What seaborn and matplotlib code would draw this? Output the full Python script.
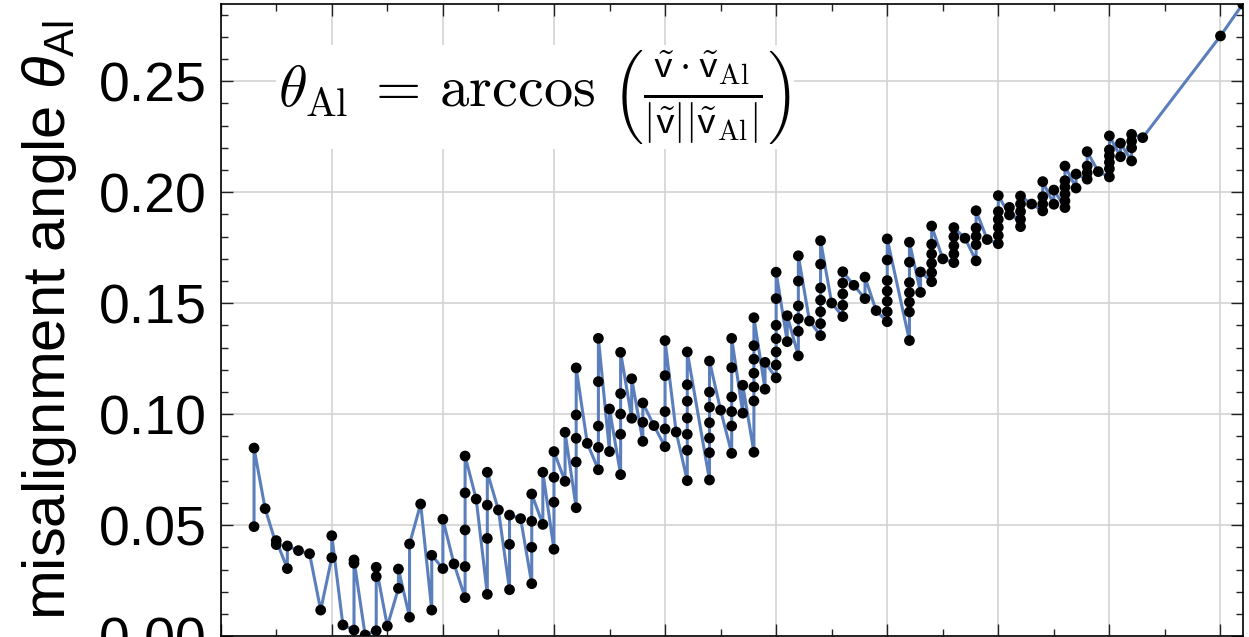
import matplotlib
matplotlib.use("Agg")
import matplotlib.pyplot as plt
from matplotlib.ticker import MultipleLocator, NullFormatter
import numpy as np
import pandas as pd
import seaborn as sns

# Misalignment angle per position; positions with several runs are listed bottom to top
offset = (
    [0.3] * 2 + [0.4] + [0.5] * 2 + [0.6] * 2 + [0.7] + [0.8] + [0.9] + [1.0] * 2
    + [1.1] + [1.2] * 3 + [1.3] + [1.4] * 3 + [1.5] + [1.6] * 2 + [1.7] * 2
    + [1.8] + [1.9] * 2 + [2.0] * 2 + [2.1] + [2.2] * 5 + [2.3] + [2.4] * 4
    + [2.5] + [2.6] * 3 + [2.7] + [2.8] * 4 + [2.9] * 2 + [3.0] * 4 + [3.1] * 2
    + [3.2] * 5 + [3.3] + [3.4] * 5 + [3.5] * 2 + [3.6] * 5 + [3.7] * 2
    + [3.8] * 3 + [3.9] + [4.0] * 5 + [4.1] + [4.2] * 7 + [4.4] * 7 + [4.5]
    + [4.6] * 6 + [4.7] * 2 + [4.8] * 7 + [4.9] * 2 + [5.0] * 7 + [5.1] * 2
    + [5.2] * 6 + [5.3] + [5.4] * 7 + [5.5] + [5.6] * 5 + [5.7] + [5.8] * 2
    + [5.9] + [6.0] * 7 + [6.2] * 7 + [6.3] * 2 + [6.4] * 6 + [6.5] + [6.6] * 5
    + [6.7] + [6.8] * 5 + [6.9] + [7.0] * 6 + [7.1] * 2 + [7.2] * 5 + [7.3]
    + [7.4] * 4 + [7.5] * 2 + [7.6] * 6 + [7.7] * 2 + [7.8] * 4 + [7.9]
    + [8.0] * 6 + [8.1] * 2 + [8.2] * 4 + [8.3] + [9.0] + [9.2]
)

theta_al = [
    0.0494, 0.0848,
    0.0575,
    0.0413, 0.0431,
    0.0305, 0.0407,
    0.0386,
    0.0372,
    0.0118,
    0.0354, 0.0453,
    0.0051,
    0.0028, 0.0329, 0.0344,
    0.0006,
    0.0025, 0.0269, 0.0311,
    0.0046,
    0.0216, 0.0303,
    0.0086, 0.0416,
    0.0596,
    0.0118, 0.0365,
    0.0305, 0.0527,
    0.0326,
    0.0174, 0.0314, 0.0479, 0.0646, 0.0812,
    0.0618,
    0.0189, 0.0441, 0.0591, 0.0739,
    0.0569,
    0.0210, 0.0414, 0.0546,
    0.0530,
    0.0237, 0.0401, 0.0518, 0.0641,
    0.0504, 0.0739,
    0.0392, 0.0604, 0.0716, 0.0832,
    0.0698, 0.0919,
    0.0579, 0.0785, 0.0892, 0.0997, 0.1209,
    0.0869,
    0.0750, 0.0851, 0.0947, 0.1147, 0.1342,
    0.0832, 0.1024,
    0.0728, 0.0910, 0.1001, 0.1093, 0.1279,
    0.0982, 0.1160,
    0.0878, 0.0964, 0.1051,
    0.0949,
    0.0854, 0.0934, 0.1012, 0.1174, 0.1332,
    0.0920,
    0.0701, 0.0838, 0.0910, 0.0983, 0.1059, 0.1133, 0.1281,
    0.0704, 0.0827, 0.0893, 0.0962, 0.1032, 0.1100, 0.1240,
    0.1019,
    0.0824, 0.0947, 0.1012, 0.1078, 0.1210, 0.1342,
    0.1005, 0.1131,
    0.0829, 0.1060, 0.1123, 0.1185, 0.1248, 0.1309, 0.1435,
    0.1113, 0.1234,
    0.1164, 0.1222, 0.1281, 0.1341, 0.1401, 0.1521, 0.1640,
    0.1327, 0.1444,
    0.1263, 0.1374, 0.1431, 0.1488, 0.1600, 0.1714,
    0.1420,
    0.1354, 0.1408, 0.1462, 0.1514, 0.1569, 0.1676, 0.1782,
    0.1501,
    0.1440, 0.1491, 0.1542, 0.1591, 0.1642,
    0.1581,
    0.1521, 0.1618,
    0.1467,
    0.1417, 0.1462, 0.1509, 0.1555, 0.1602, 0.1695, 0.1790,
    0.1332, 0.1461, 0.1505, 0.1548, 0.1593, 0.1685, 0.1775,
    0.1549, 0.1641,
    0.1597, 0.1638, 0.1680, 0.1722, 0.1766, 0.1848,
    0.1700,
    0.1683, 0.1722, 0.1759, 0.1800, 0.1841,
    0.1793,
    0.1691, 0.1764, 0.1802, 0.1839, 0.1917,
    0.1787,
    0.1768, 0.1805, 0.1842, 0.1878, 0.1913, 0.1985,
    0.1898, 0.1932,
    0.1845, 0.1878, 0.1913, 0.1947, 0.1983,
    0.1947,
    0.1916, 0.1947, 0.1980, 0.2048,
    0.1946, 0.2010,
    0.1931, 0.1961, 0.1992, 0.2023, 0.2052, 0.2118,
    0.2019, 0.2082,
    0.2059, 0.2088, 0.2118, 0.2183,
    0.2093,
    0.2069, 0.2106, 0.2135, 0.2164, 0.2191, 0.2254,
    0.2160, 0.2221,
    0.2141, 0.2200, 0.2230, 0.2261,
    0.2246,
    0.2704,
    0.2848,
]

y_ticks = [0.00, 0.05, 0.10, 0.15, 0.20, 0.25]
y_tick_labels = ["0.00", "0.05", "0.10", "0.15", "0.20", "0.25"]

df = pd.DataFrame({"offset": offset, "theta": theta_al})

sns.set_theme(style="ticks")
plt.rcParams["font.family"] = ["Liberation Sans", "DejaVu Sans"]
plt.rcParams["mathtext.fontset"] = "custom"
plt.rcParams["mathtext.rm"] = "Liberation Sans"
plt.rcParams["mathtext.it"] = "Liberation Sans:italic"
plt.rcParams["mathtext.bf"] = "Liberation Sans:bold"
plt.rcParams["text.color"] = "black"
plt.rcParams["axes.labelcolor"] = "black"
plt.rcParams["xtick.color"] = "black"
plt.rcParams["ytick.color"] = "black"

fig = plt.figure(figsize=(12.49, 6.37), dpi=100)
fig.patch.set_facecolor("white")
ax = fig.add_axes([220.7 / 1249, 0.7 / 637, 1022.0 / 1249, 632.3 / 637])
ax.set_facecolor("white")

line_color = "#5b7fbc"
sns.lineplot(data=df, x="offset", y="theta", sort=False, estimator=None,
             color=line_color, lw=2.2, ax=ax, zorder=2)
sns.scatterplot(data=df, x="offset", y="theta", color="black", s=60,
                edgecolor="none", ax=ax, zorder=3, clip_on=True)

ax.set_xlim(0, 9.2)
ax.set_ylim(0, 0.2848)

ax.xaxis.set_major_locator(MultipleLocator(1.0))
ax.xaxis.set_minor_locator(MultipleLocator(0.5))
ax.xaxis.set_major_formatter(NullFormatter())
ax.set_yticks(y_ticks)
ax.set_yticklabels(y_tick_labels)
ax.yaxis.set_minor_locator(MultipleLocator(0.01))

ax.grid(True, which="major", color="#d0d0d0", lw=1.1, zorder=0)
ax.set_axisbelow(True)

ax.tick_params(which="both", direction="in", top=True, right=True,
               color="#222222", width=1.0)
ax.tick_params(which="major", length=8.5, labelsize=40, pad=10,
               labelcolor="black")
ax.tick_params(which="minor", length=4.8)
for sp in ax.spines.values():
    sp.set_linewidth(1.2)
    sp.set_color("black")

ax.set_xlabel("")
ax.set_ylabel(r"misalignment angle $\theta_{\mathrm{Al}}$", fontsize=43,
              labelpad=14, color="black")

ax.text(0.3075, 0.853,
        r"$\theta_{\mathrm{Al}}\;=\,\arccos\,\left(\frac{\tilde{\mathsf{v}}\cdot\tilde{\mathsf{v}}_{\mathrm{Al}}}"
        r"{|\tilde{\mathsf{v}}||\tilde{\mathsf{v}}_{\mathrm{Al}}|}\right)$",
        transform=ax.transAxes, ha="center", va="center", fontsize=42,
        math_fontfamily="cm", zorder=4, color="black",
        bbox=dict(facecolor="white", edgecolor="none", pad=2))

fig.savefig("out.png", dpi=100, facecolor="white")
